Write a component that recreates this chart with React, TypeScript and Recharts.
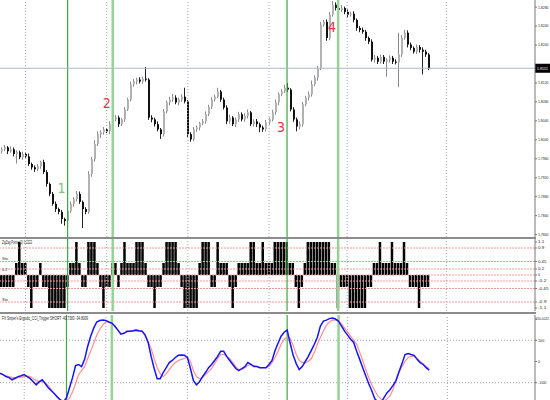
import React from "react";
import {
  ComposedChart,
  Bar,
  Line,
  XAxis,
  YAxis,
  ReferenceLine,
  ReferenceDot,
} from "recharts";

// slots on the time axis (143 candles + empty space on the right)
const SLOTS = 178;

const firstOpen = 1.7976;

const closes = [
  1.798, 1.7984, 1.7976, 1.798, 1.797, 1.7974, 1.7963, 1.797, 1.7965, 1.7949,
  1.7942, 1.7938, 1.7944, 1.7953, 1.7932, 1.7907, 1.7886, 1.7865, 1.7854, 1.7848,
  1.7833, 1.7829, 1.785, 1.7865, 1.7875, 1.7886, 1.7869, 1.7854, 1.7848, 1.7928,
  1.7959, 1.7991, 1.8012, 1.8016, 1.8022, 1.8018, 1.8033, 1.8043, 1.8047, 1.8033,
  1.8043, 1.8064, 1.8085, 1.8117, 1.8123, 1.8127, 1.8123, 1.8129, 1.8127, 1.8047,
  1.8043, 1.8033, 1.8022, 1.8012, 1.806, 1.8079, 1.8085, 1.8089, 1.8079, 1.8085,
  1.8091, 1.8081, 1.8012, 1.8001, 1.8022, 1.8026, 1.8035, 1.8039, 1.8054, 1.807,
  1.8085, 1.8091, 1.8102, 1.8085, 1.8068, 1.8039, 1.8047, 1.8033, 1.8043, 1.8054,
  1.8043, 1.8051, 1.8058, 1.8033, 1.8039, 1.8033, 1.8026, 1.8022, 1.8037, 1.8043,
  1.8058, 1.8079, 1.8096, 1.8102, 1.811, 1.8106, 1.8064, 1.8043, 1.8028, 1.8033,
  1.8075, 1.8089, 1.8096, 1.8117, 1.8131, 1.8152, 1.8243, 1.8249, 1.8215, 1.8264,
  1.8285, 1.8278, 1.8274, 1.8278, 1.827, 1.8264, 1.8266, 1.8253, 1.8236, 1.8232,
  1.8228, 1.8215, 1.8207, 1.8169, 1.8173, 1.8165, 1.8175, 1.8165, 1.8169, 1.8173,
  1.8165, 1.8163, 1.818, 1.8215, 1.8226, 1.8201, 1.8194, 1.8186, 1.8196, 1.819,
  1.8186, 1.818, 1.8151,
];

// wick lengths above / below the body, in pips
const wickHi = [
  4, 5, 3, 6, 4, 4, 3, 5, 4, 6,
  3, 4, 5, 3, 5, 4, 3, 4, 5, 3,
  4, 3, 6, 5, 4, 6, 5, 3, 4, 6,
  5, 8, 6, 4, 5, 3, 6, 4, 5, 4,
  3, 5, 4, 6, 5, 4, 5, 4, 25, 3,
  5, 4, 6, 3, 5, 4, 6, 8, 5, 4,
  5, 19, 3, 4, 5, 4, 3, 5, 6, 4,
  5, 4, 8, 3, 4, 5, 6, 3, 4, 5,
  4, 5, 6, 3, 4, 5, 3, 4, 5, 4,
  5, 6, 4, 5, 6, 10, 3, 5, 4, 6,
  5, 4, 6, 8, 5, 4, 6, 4, 5, 6,
  8, 5, 4, 6, 3, 5, 4, 5, 3, 4,
  5, 4, 3, 5, 6, 4, 5, 4, 3, 5,
  4, 5, 46, 6, 6, 5, 4, 3, 5, 4,
  5, 4, 3,
];

const wickLo = [
  5, 4, 6, 3, 5, 20, 4, 5, 3, 4,
  5, 6, 4, 5, 4, 6, 5, 4, 6, 5,
  10, 10, 5, 4, 6, 5, 4, 40, 5, 4,
  6, 5, 4, 8, 5, 4, 6, 5, 4, 6,
  4, 5, 3, 4, 5, 6, 4, 5, 4, 5,
  6, 5, 4, 10, 5, 4, 6, 5, 4, 6,
  5, 4, 6, 5, 4, 5, 6, 4, 5, 4,
  5, 4, 3, 5, 4, 6, 5, 4, 6, 5,
  4, 5, 6, 4, 5, 6, 10, 5, 4, 5,
  4, 5, 6, 4, 3, 5, 4, 5, 10, 6,
  5, 4, 6, 5, 4, 6, 5, 4, 6, 5,
  4, 5, 6, 4, 5, 6, 4, 5, 6, 5,
  4, 6, 5, 4, 6, 5, 4, 5, 32, 6,
  5, 4, 52, 5, 4, 6, 5, 4, 5, 6,
  48, 5, 4,
];

const zigzag = [
  -0.4, -0.4, -0.4, -0.4, -0.4, 0.4, 1.1, 0.4, 0.4, -0.4,
  -1.1, -0.4, -0.4, 0.4, -0.4, -0.4, -1.1, -1.1, -1.1, -1.1,
  -1.1, -1.1, -0.4, 0.4, 0.4, 1.1, 0.4, -0.4, -0.4, 1.1,
  1.1, 1.1, 0.4, -0.4, -1.1, -0.4, -0.4, 0.4, 0.4, -0.4,
  0.4, 1.1, 0.4, 0.4, 0.4, 1.1, 1.1, 1.1, 0.4, -0.4,
  -0.4, -1.1, -0.4, -0.4, 0.4, 1.1, 1.1, 1.1, 1.1, 0.4,
  -0.4, -1.1, -1.1, -1.1, -1.1, -1.1, 0.4, 1.1, 1.1, 1.1,
  -0.4, -0.4, 1.1, 0.4, 0.4, 0.4, -0.4, -1.1, -0.4, 0.4,
  0.4, 0.4, 0.4, 1.1, 1.1, 0.4, 0.4, 1.1, 0.4, 0.4,
  0.4, 1.1, 1.1, 1.1, 1.1, 1.1, 0.4, 0.4, -0.4, -1.1,
  -0.4, 0.4, 1.1, 1.1, 1.1, 1.1, 1.1, 1.1, 1.1, 1.1,
  0.4, 0.4, -1.1, -0.4, -0.4, -0.4, -1.1, -1.1, -1.1, -1.1,
  -1.1, -1.1, -0.4, -0.4, 0.4, 0.4, 1.1, 0.4, 0.4, 0.4,
  1.1, 0.4, 0.4, 0.4, 1.1, 0.4, -0.4, -0.4, -0.4, -1.1,
  -0.4, -0.4, -0.4,
];

const cci = [
  -55, -62, -71, -76, -86, -79, -71, -67, -62, -71,
  -81, -95, -110, -95, -86, -105, -124, -138, -152, -167,
  -181, -190, -171, -124, -76, -19, -14, -24, 10, 71,
  119, 157, 186, 193, 195, 193, 186, 181, 167, 148,
  129, 133, 143, 143, 145, 148, 145, 143, 124, 90,
  24, -33, -81, -81, -52, -29, -5, 5, 19, 29,
  31, 29, 19, -33, -90, -110, -95, -71, -52, -29,
  -14, 5, 24, 48, 48, 24, 5, -14, -33, -43,
  -33, -24, -5, -14, -24, -24, -29, -29, -29, -14,
  5, 52, 86, 119, 138, 148, 86, 29, -10, -38,
  -24, 0, 24, 52, 81, 114, 167, 190, 195, 202,
  205, 200, 190, 167, 143, 124, 105, 90, 48, 10,
  -29, -67, -105, -138, -176, -190, -195, -171, -148, -133,
  -114, -90, -48, -10, 33, 38, 33, 29, 10, -5,
  -14, -29, -41,
];

const trigger = [
  -57, -62, -67, -71, -76, -76, -76, -74, -71, -69,
  -71, -81, -90, -95, -95, -100, -114, -133, -152, -171,
  -181, -190, -186, -171, -143, -105, -62, -43, -24, 14,
  48, 86, 124, 152, 171, 186, 186, 176, 162, 148,
  133, 133, 138, 143, 143, 143, 143, 143, 129, 95,
  62, 14, -29, -57, -71, -57, -38, -19, -5, 5,
  10, 14, 19, 0, -43, -71, -81, -76, -62, -48,
  -33, -10, 14, 33, 33, 24, 14, -5, -24, -38,
  -38, -29, -19, -14, -19, -24, -29, -29, -29, -24,
  -5, 19, 48, 81, 105, 114, 110, 76, 33, 5,
  -5, -5, 0, 14, 43, 81, 114, 143, 171, 186,
  195, 195, 195, 176, 157, 138, 119, 100, 81, 43,
  5, -38, -76, -110, -138, -162, -176, -186, -176, -162,
  -133, -90, -52, -24, 0, 19, 24, 24, 14, 0,
  -10, -24, -35,
];

const priceTicks = [
  1.828, 1.824, 1.82, 1.812, 1.808, 1.804, 1.8, 1.796, 1.792, 1.788, 1.784, 1.78,
];
const zigTicks = [1.1, 0.9, 0.45, 0.2, 0, -0.2, -0.45, -0.9, -1.1];
const zigLevels = [0.9, 0.45, 0.2, 0, -0.2, -0.45, -0.9];
const oscTicks = [200.0022, 100, 0, -100];
const oscLevels = [100, -100];
const lastPrice = 1.8151;

const gridAt = [8, 35, 62, 89, 115, 148];
const signalAt = [22, 37, 95, 112];
const marks = [
  { i: 20, p: 1.7899, t: "1" },
  { i: 35, p: 1.8078, t: "2" },
  { i: 93, p: 1.8028, t: "3" },
  { i: 110, p: 1.8237, t: "4" },
];

const zigTitle = "ZigZag Pointer(2) 0.2222";
const oscTitle = "FX Sniper's Ergodic_CCI_Trigger SHORT -40.7383 -34.8009";

const rows = Array.from({ length: SLOTS }, (_, i) => {
  if (i >= closes.length) return { i };
  const open = i === 0 ? firstOpen : closes[i - 1];
  const close = closes[i];
  const high = Math.max(open, close) + wickHi[i] / 10000;
  const low = Math.min(open, close) - wickLo[i] / 10000;
  return {
    i,
    open,
    close,
    high,
    low,
    range: [low, high],
    zz: zigzag[i],
    cci: cci[i],
    trig: trigger[i],
  };
});

const FONT = "'Liberation Sans', Arial, sans-serif";

// small right-axis label, right-aligned inside the narrow gutter
function makeTick(fmt: (v: number) => string) {
  return (props: any) => {
    const { x, y, payload } = props;
    const s = fmt(payload.value);
    const long = s.length > 6;
    const w = Math.min(s.length * 2.1, 10.5);
    return (
      <text
        x={long ? x + 11 : x + w}
        y={y}
        dy={1.4}
        fontSize={long ? 3.1 : 4.3}
        fill="#222"
        textAnchor="end"
        textLength={long ? undefined : w}
        lengthAdjust={long ? undefined : "spacingAndGlyphs"}
      >
        {s}
      </text>
    );
  };
}

function Candle(props: any) {
  const { x, y, width, height, payload } = props;
  if (!payload || payload.open === undefined || !isFinite(y) || !isFinite(height)) {
    return <g />;
  }
  const top = Math.min(y, y + height);
  const span = Math.abs(height);
  const k = span / (payload.high - payload.low || 1);
  const at = (p: number) => top + (payload.high - p) * k;
  const c = Math.round(x + width / 2);
  const bull = payload.close >= payload.open;
  const b1 = at(Math.max(payload.open, payload.close));
  const b2 = at(Math.min(payload.open, payload.close));
  return (
    <g>
      <line
        x1={c - 0.5}
        x2={c - 0.5}
        y1={top}
        y2={top + span}
        stroke={bull ? "#8a8a8a" : "#222"}
        strokeWidth={1}
      />
      <rect
        x={c - 1}
        y={b1}
        width={2}
        height={Math.max(1, b2 - b1)}
        fill={bull ? "#b2b2b2" : "#111"}
      />
    </g>
  );
}

function PriceTag(props: any) {
  const vb = props.viewBox;
  if (!vb) return null;
  const x = vb.x + vb.width;
  return (
    <g>
      <rect x={x} y={vb.y - 4.5} width={15} height={9} fill="#000" />
      <text
        x={x + 13}
        y={vb.y + 1.6}
        fontSize={4.3}
        fill="#fff"
        textAnchor="end"
        textLength={11}
        lengthAdjust="spacingAndGlyphs"
      >
        {lastPrice.toFixed(4)}
      </text>
    </g>
  );
}

function timeLines() {
  return [
    ...gridAt.map((g) => (
      <ReferenceLine
        key={"g" + g}
        x={g}
        stroke="#a8a8a8"
        strokeDasharray="1 2"
      />
    )),
    ...signalAt.map((s, k) => (
      <ReferenceLine
        key={"s" + s}
        x={s}
        stroke={k % 2 === 1 ? "#93d493" : "#3fa83f"}
        strokeWidth={k % 2 === 1 ? 2.5 : 1.2}
      />
    )),
  ];
}

export default function App() {
  return (
    <div
      style={{
        position: "fixed",
        left: 0,
        top: 0,
        width: 550,
        height: 400,
        overflow: "hidden",
        background: "#fff",
        fontFamily: FONT,
      }}
    >
      <style>{"body{margin:0}"}</style>

      <div style={{ position: "absolute", left: 0, top: 0 }}>
        <ComposedChart
          width={550}
          height={237}
          data={rows}
          margin={{ top: 0, right: 0, bottom: 0, left: 0 }}
        >
          <XAxis dataKey="i" hide />
          <YAxis
            orientation="right"
            width={15}
            domain={[1.7795, 1.8295]}
            allowDataOverflow
            ticks={priceTicks}
            interval={0}
            tickSize={2}
            tickMargin={1}
            tick={makeTick((v) => v.toFixed(4))}
            axisLine={{ stroke: "#777" }}
            tickLine={{ stroke: "#777" }}
          />
          {timeLines()}
          <ReferenceLine y={lastPrice} stroke="#a9b8c8" label={<PriceTag />} />
          <Bar
            dataKey="range"
            barSize={2}
            shape={Candle}
            isAnimationActive={false}
          />
          {marks.map((m) => (
            <ReferenceDot
              key={m.t}
              x={m.i}
              y={m.p}
              r={0}
              fill="none"
              stroke="none"
              label={{
                value: m.t,
                position: "center",
                fill: m.t === "1" ? "#7cc47c" : "#e8334a",
                fontSize: 14,
                fontFamily: "'Liberation Sans Narrow', 'DejaVu Sans Condensed', sans-serif",
              }}
            />
          ))}
        </ComposedChart>
      </div>

      <div
        style={{ position: "absolute", left: 0, top: 237, width: 536, height: 2, background: "#8c8c8c" }}
      />

      <div style={{ position: "absolute", left: 0, top: 239 }}>
        <ComposedChart
          width={550}
          height={73}
          data={rows}
          margin={{ top: 0, right: 0, bottom: 1, left: 0 }}
        >
          <XAxis dataKey="i" hide />
          <YAxis
            orientation="right"
            width={15}
            domain={[-1.2, 1.2]}
            allowDataOverflow
            ticks={zigTicks}
            interval={0}
            tickSize={2}
            tickMargin={1}
            tick={makeTick((v) => String(v))}
            axisLine={{ stroke: "#777" }}
            tickLine={{ stroke: "#777" }}
          />
          {zigLevels.map((v) => (
            <ReferenceLine key={"z" + v} y={v} stroke="#f19a9a" strokeDasharray="2 1" />
          ))}
          {timeLines()}
          <Bar dataKey="zz" fill="#000" barSize={2.5} isAnimationActive={false} />
        </ComposedChart>
      </div>

      <div
        style={{ position: "absolute", left: 0, top: 312, width: 536, height: 2, background: "#8c8c8c" }}
      />

      <div style={{ position: "absolute", left: 0, top: 314 }}>
        <ComposedChart
          width={550}
          height={94}
          data={rows}
          margin={{ top: 1, right: 0, bottom: 0, left: 0 }}
        >
          <XAxis dataKey="i" hide />
          <YAxis
            orientation="right"
            width={15}
            domain={[-219, 219]}
            allowDataOverflow
            ticks={oscTicks}
            interval={0}
            tickSize={2}
            tickMargin={1}
            tick={makeTick((v) => (Math.abs(v) > 150 ? v.toFixed(4) : String(v)))}
            axisLine={{ stroke: "#777" }}
            tickLine={{ stroke: "#777" }}
          />
          {oscLevels.map((v) => (
            <ReferenceLine key={"o" + v} y={v} stroke="#a0a0a0" strokeDasharray="1 2" />
          ))}
          {timeLines()}
          <Line
            dataKey="trig"
            stroke="#ff8e8e"
            strokeWidth={1.2}
            dot={false}
            isAnimationActive={false}
          />
          <Line
            dataKey="cci"
            stroke="#1414ff"
            strokeWidth={1.5}
            dot={false}
            isAnimationActive={false}
          />
        </ComposedChart>
      </div>

      <svg
        width={550}
        height={400}
        style={{ position: "absolute", left: 0, top: 0, pointerEvents: "none" }}
      >
        <text x={2} y={244} fontSize={4.5} fill="#222" textLength={30} lengthAdjust="spacingAndGlyphs">
          {zigTitle}
        </text>
        <text x={2} y={260} fontSize={4} fill="#333">Sto</text>
        <text x={2} y={271} fontSize={4} fill="#333">0.2</text>
        <text x={2} y={279} fontSize={4} fill="#333">0.0</text>
        <text x={2} y={301} fontSize={4} fill="#333">Sto</text>
        <text x={2} y={320} fontSize={4.5} fill="#222" textLength={86} lengthAdjust="spacingAndGlyphs">
          {oscTitle}
        </text>
      </svg>
    </div>
  );
}
